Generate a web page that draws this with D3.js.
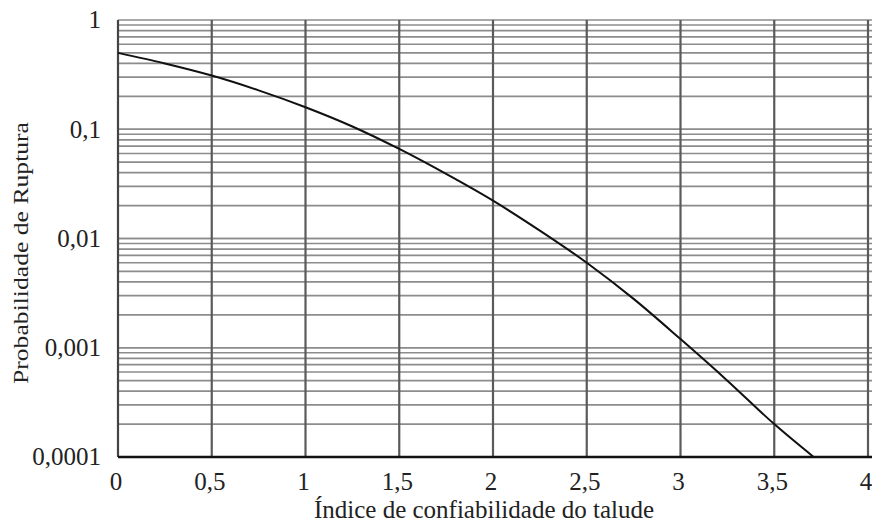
<!DOCTYPE html>
<html lang="pt">
<head>
<meta charset="utf-8">
<script src="https://cdn.jsdelivr.net/npm/d3@7/dist/d3.min.js"></script>
<style>
  body { margin: 0; background: #fff; }
  text { font-family: "Liberation Serif", "Times New Roman", serif; fill: #222; }
</style>
</head>
<body>
<script>
// curve: reliability index vs failure probability
var beta = [0, 0.25, 0.5, 0.75, 1, 1.25, 1.5, 1.75, 2, 2.25, 2.5, 2.75, 3, 3.25, 3.5, 3.71];
var prob = [0.5, 0.40, 0.31, 0.227, 0.159, 0.106, 0.066, 0.039, 0.0222, 0.0118, 0.0060, 0.0028, 0.0012, 0.0005, 0.0002, 0.0001];

var xTicks = [0, 0.5, 1, 1.5, 2, 2.5, 3, 3.5, 4];
var yTicks = [1, 0.1, 0.01, 0.001, 0.0001];
var yTickLabels = ["1", "0,1", "0,01", "0,001", "0,0001"];

var W = 872, H = 526;
var margin = {top: 20, right: 4, bottom: 69, left: 118};
var width = W - margin.left - margin.right,
    height = H - margin.top - margin.bottom;

var x = d3.scaleLinear().domain([0, 4]).range([0, width]);
var y = d3.scaleLog().domain([0.0001, 1]).range([height, 0]);

var svg = d3.select("body").append("svg")
    .attr("width", W)
    .attr("height", H);

var g = svg.append("g")
    .attr("transform", "translate(" + margin.left + "," + margin.top + ")");

// minor log grid: 1..9 in every decade
var minor = [];
[0.0001, 0.001, 0.01, 0.1].forEach(function(d) {
  for (var k = 1; k <= 10; k++) minor.push(d * k);
});

g.append("g").selectAll("line")
    .data(minor)
  .enter().append("line")
    .attr("x1", 0)
    .attr("x2", width + margin.right)
    .attr("y1", function(d) { return y(d); })
    .attr("y2", function(d) { return y(d); })
    .attr("stroke", "#8c8c8c")
    .attr("stroke-width", 1.7);

// vertical grid
g.append("g").selectAll("line")
    .data(xTicks.slice(1))
  .enter().append("line")
    .attr("x1", function(d) { return x(d); })
    .attr("x2", function(d) { return x(d); })
    .attr("y1", 0)
    .attr("y2", height)
    .attr("stroke", "#5a5a5a")
    .attr("stroke-width", 2.2);

// left and bottom axis lines
g.append("line")
    .attr("x1", 0).attr("x2", 0)
    .attr("y1", 0).attr("y2", height)
    .attr("stroke", "#444").attr("stroke-width", 2.2);

g.append("line")
    .attr("x1", 0).attr("x2", width + margin.right)
    .attr("y1", height).attr("y2", height)
    .attr("stroke", "#111").attr("stroke-width", 2.6);

// curve
var line = d3.line()
    .x(function(d, i) { return x(beta[i]); })
    .y(function(d) { return y(d); })
    .curve(d3.curveMonotoneX);

g.append("path")
    .datum(prob)
    .attr("d", line)
    .attr("fill", "none")
    .attr("stroke", "#111")
    .attr("stroke-width", 2);

// tick labels
g.append("g").selectAll("text")
    .data(xTicks)
  .enter().append("text")
    .attr("x", function(d) { return x(d) - 2; })
    .attr("y", height + 33)
    .attr("text-anchor", "middle")
    .style("font-size", "25px")
    .text(function(d) { return String(d).replace(".", ","); });

g.append("g").selectAll("text")
    .data(yTicks)
  .enter().append("text")
    .attr("x", -17)
    .attr("y", function(d) { return y(d); })
    .attr("dy", "0.33em")
    .attr("text-anchor", "end")
    .style("font-size", "25px")
    .text(function(d, i) { return yTickLabels[i]; });

// axis titles
svg.append("text")
    .attr("x", 484)
    .attr("y", 518)
    .attr("text-anchor", "middle")
    .style("font-size", "25px")
    .text("Índice de confiabilidade do talude");

svg.append("text")
    .attr("transform", "translate(28,253) rotate(-90)")
    .attr("text-anchor", "middle")
    .attr("textLength", 262)
    .attr("lengthAdjust", "spacingAndGlyphs")
    .style("font-size", "21px")
    .text("Probabilidade de Ruptura");
</script>
</body>
</html>
